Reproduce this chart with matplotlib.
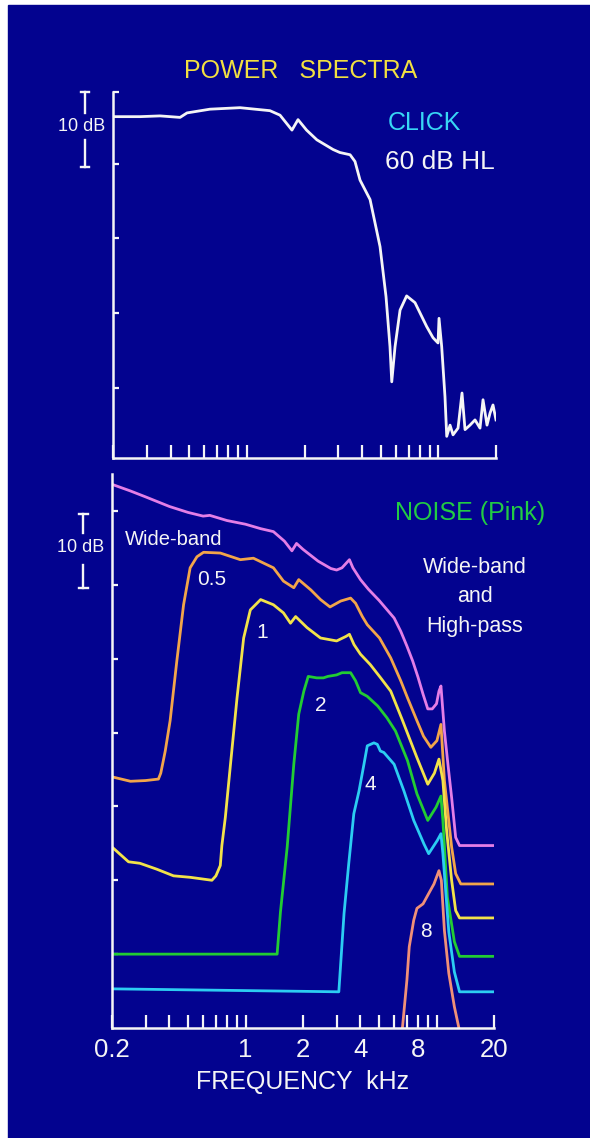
import matplotlib
matplotlib.use('Agg')
import matplotlib.pyplot as plt
from matplotlib.patches import Rectangle
from matplotlib.ticker import FixedLocator, FixedFormatter, NullLocator

plt.rcParams['font.family'] = ['Liberation Sans', 'DejaVu Sans']

# ---- data (kHz, dB) ----
click_f = [0.2, 0.277, 0.352, 0.448, 0.487, 0.642, 0.921, 1.32, 1.49, 1.72, 1.85, 2.05,
           2.32, 2.82, 3.06, 3.46, 3.67, 3.9, 4.4, 4.96, 5.33, 5.59, 5.71, 5.94, 6.31,
           6.83, 7.55, 8.69, 9.38, 9.96, 10.08, 10.41, 10.83, 11.06, 11.51, 11.93, 12.67,
           13.29, 13.78, 14.63, 15.54, 16.5, 17.11, 17.95, 18.61, 19.29, 20]
click_db = [46.3, 46.3, 46.4, 46.2, 46.8, 47.3, 47.5, 47.1, 46.5, 44.5, 45.9, 44.5,
            43.2, 41.9, 41.5, 41.2, 40.3, 37.8, 35.2, 28.9, 22.2, 15.5, 10.8, 15.5, 20.4,
            22.3, 21.4, 18.2, 16.7, 16.0, 19.3, 15.5, 8.8, 3.5, 5.0, 3.7, 4.6,
            9.3, 4.4, 5.0, 5.7, 4.6, 8.4, 5.0, 6.6, 7.7, 5.7]

wide_f = [0.2, 0.25, 0.3, 0.4, 0.5, 0.6, 0.65, 0.8, 1.0, 1.2, 1.4, 1.6, 1.75, 1.85, 2.0,
          2.4, 2.8, 3.0, 3.2, 3.5, 3.65, 4.0, 4.4, 5.0, 6.0, 6.5, 7.0, 7.5, 8.0, 8.5, 9.0,
          9.5, 10.0, 10.3, 10.55, 11.0, 11.5, 12.0, 12.6, 13.2, 20]
wide_db = [73.6, 72.7, 71.9, 70.6, 69.8, 69.3, 69.4, 68.7, 68.2, 67.6, 67.2, 65.9, 64.6,
           65.6, 64.8, 63.2, 62.2, 62.0, 62.3, 63.4, 62.3, 60.7, 59.4, 57.9, 55.5, 53.7,
           51.7, 49.7, 47.5, 45.2, 43.2, 43.2, 43.9, 45.6, 46.3, 40.2, 35.5, 31.2, 25.8,
           24.7, 24.7]

hp05_f = [0.2, 0.25, 0.3, 0.35, 0.36, 0.37, 0.38, 0.403, 0.437, 0.474, 0.513, 0.557,
          0.603, 0.738, 0.94, 1.10, 1.4, 1.58, 1.79, 1.9, 2.2, 2.47, 2.77, 3.15, 3.55,
          3.77, 4.09, 4.34, 5.03, 5.76, 6.5, 7.05, 7.9, 8.55, 9.34, 10.05, 10.55, 11.0,
          12.0, 12.6, 13.4, 20]
hp05_db = [34.0, 33.4, 33.5, 33.7, 34.5, 36.0, 37.5, 41.6, 49.7, 57.3, 62.3, 63.8,
           64.4, 64.3, 63.4, 63.6, 62.3, 60.5, 59.6, 60.7, 59.3, 58.0, 57.0, 57.8, 58.2,
           57.5, 55.7, 54.6, 52.8, 50.1, 47.0, 44.7, 41.6, 39.5, 38.0, 38.9, 41.1, 33.5,
           24.5, 20.9, 19.5, 19.5]

hp1_f = [0.2, 0.244, 0.28, 0.343, 0.42, 0.513, 0.667, 0.70, 0.738, 0.752, 0.784, 0.833,
         0.903, 0.978, 1.06, 1.2, 1.4, 1.58, 1.72, 1.83, 2.1, 2.47, 3.0, 3.35, 3.5, 3.7,
         4.0, 4.5, 5.1, 5.76, 6.6, 7.9, 9.0, 9.75, 10.3, 10.8, 11.3, 12.0, 12.6, 13.2, 20]
hp1_db = [24.5, 22.5, 22.3, 21.5, 20.6, 20.4, 20.0, 20.6, 22.0, 24.7, 28.5, 35.5,
          44.7, 52.8, 56.6, 58.0, 57.3, 56.2, 54.8, 55.7, 54.2, 52.8, 52.4, 53.0, 53.3,
          51.9, 50.6, 49.2, 47.4, 45.6, 41.8, 36.6, 33.0, 34.5, 36.4, 33.5, 26.7, 20.0,
          15.9, 14.9, 14.9]

hp2_f = [0.2, 1.464, 1.524, 1.653, 1.79, 1.90, 2.02, 2.13, 2.36, 2.56, 2.7, 3.0, 3.2,
         3.55, 3.77, 4.0, 4.34, 4.92, 5.5, 6.1, 7.05, 7.9, 9.0, 9.95, 10.55, 10.8, 11.4,
         12.4, 13.2, 20]
hp2_db = [10.0, 10.0, 15.7, 24.5, 35.7, 42.5, 45.6, 47.6, 47.4, 47.4, 47.6, 47.8, 48.1,
          48.1, 47.0, 45.4, 44.9, 43.6, 42.0, 40.2, 36.2, 31.7, 28.1, 29.9, 31.4, 28.1,
          17.7, 11.7, 9.7, 9.7]

hp4_f = [0.2, 3.08, 3.28, 3.47, 3.69, 3.93, 4.17, 4.34, 4.7, 4.9, 5.08, 5.3, 6.0, 6.75,
         7.6, 8.6, 9.1, 10.1, 10.55, 10.8, 11.6, 12.4, 13.2, 20]
hp4_db = [5.3, 4.9, 15.5, 22.2, 29.0, 32.1, 35.7, 38.2, 38.6, 38.4, 37.5, 37.3, 35.7,
          32.1, 28.1, 24.9, 23.6, 25.4, 26.3, 23.6, 13.0, 7.6, 4.9, 4.9]

hp8_f = [6.63, 7.0, 7.2, 7.6, 7.9, 8.5, 9.1, 9.7, 10.3, 10.6, 11.0, 11.6, 12.4, 13.1]
hp8_db = [0, 6.5, 11.0, 14.6, 16.2, 16.8, 18.2, 19.5, 21.3, 20.0, 13.2, 7.4, 2.9, 0]

xticks = [0.2, 0.3, 0.4, 0.5, 0.6, 0.7, 0.8, 0.9, 1, 2, 3, 4, 5, 6, 7, 8, 9, 10, 20]
xlabels = ['0.2', '', '', '', '', '', '', '', '1', '2', '', '4', '', '', '', '8', '', '', '20']

BLUE = '#03038f'
WHITE = '#f5f5f5'
W, H = 590, 1138
LW = 2.0

fig = plt.figure(figsize=(W / 100, H / 100), dpi=100, facecolor='white')
fig.patches.append(Rectangle((8 / W, 0), 1, 1 - 5 / H, transform=fig.transFigure,
                             color=BLUE, zorder=-10))

def fx(px):
    return px / W

def fy(py):
    return 1 - py / H

def style(ax):
    ax.set_facecolor('none')
    ax.set_xscale('log')
    ax.set_xlim(0.2, 20)
    for s in ['top', 'right']:
        ax.spines[s].set_visible(False)
    for s in ['left', 'bottom']:
        ax.spines[s].set_color(WHITE)
        ax.spines[s].set_linewidth(1.8)
    ax.xaxis.set_major_locator(FixedLocator(xticks))
    ax.xaxis.set_minor_locator(NullLocator())
    ax.yaxis.set_minor_locator(NullLocator())
    ax.tick_params(axis='x', direction='in', length=9.5, width=1.6, color=WHITE,
                   labelcolor=WHITE, labelsize=18.5, pad=7)
    ax.tick_params(axis='y', direction='in', length=4, width=1.6, color=WHITE,
                   labelleft=False)

def scale_bar(ax, x, top, gap_hi, gap_lo, text_y, text_x):
    tr = ax.get_yaxis_transform()
    ax.plot([x, x], [top, gap_hi], color=WHITE, lw=1.7, transform=tr, clip_on=False)
    ax.plot([x, x], [gap_lo, top - 10], color=WHITE, lw=1.7, transform=tr, clip_on=False)
    for yy in (top, top - 10):
        ax.plot([x - 0.011, x + 0.011], [yy, yy], color=WHITE, lw=1.7, transform=tr,
                clip_on=False)
    ax.text(text_x, text_y, '10 dB', transform=tr, color=WHITE, fontsize=13,
            ha='center', va='center')

# ---- top panel: click ----
ax1 = fig.add_axes([fx(113), fy(458), fx(496 - 113), (458 - 92) / H])
style(ax1)
ax1.set_ylim(0.6, 49.6)
ax1.set_yticks([10, 20, 30, 40, 49.6])
ax1.xaxis.set_major_formatter(FixedFormatter([''] * len(xticks)))
ax1.plot(click_f, click_db, color=WHITE, lw=LW)
scale_bar(ax1, -0.073, 49.6, 46.8, 43.2, 45.0, -0.083)

# ---- bottom panel: noise ----
ax2 = fig.add_axes([fx(112), fy(1028), fx(494 - 112), (1028 - 474) / H])
style(ax2)
ax2.set_ylim(0, 75)
ax2.set_yticks([10, 20, 30, 40, 50, 60, 70])
ax2.xaxis.set_major_formatter(FixedFormatter(xlabels))

curves = [(wide_f, wide_db, '#e47ee6'), (hp05_f, hp05_db, '#f2a54a'),
          (hp1_f, hp1_db, '#f2e24a'), (hp2_f, hp2_db, '#22cc33'),
          (hp4_f, hp4_db, '#2ccdf2'), (hp8_f, hp8_db, '#f09078')]
for f, db, c in curves:
    ax2.plot(f, db, color=c, lw=LW)

scale_bar(ax2, -0.075, 69.6, 67.0, 62.7, 65.0, -0.082)

lab = dict(color=WHITE, ha='center', va='center')
ax2.text(0.423, 66.1, 'Wide-band', fontsize=14.5, **lab)
ax2.text(0.667, 60.7, '0.5', fontsize=15, **lab)
ax2.text(1.22, 53.5, '1', fontsize=15, **lab)
ax2.text(2.47, 43.6, '2', fontsize=15, **lab)
ax2.text(4.5, 33.0, '4', fontsize=15, **lab)
ax2.text(8.8, 13.0, '8', fontsize=15, **lab)
ax2.text(15.0, 69.7, 'NOISE (Pink)', fontsize=18, color='#22cc44', ha='center',
         va='center')
ax2.text(15.9, 62.3, 'Wide-band', fontsize=15.5, **lab)
ax2.text(15.9, 58.4, 'and', fontsize=15.5, **lab)
ax2.text(15.9, 54.4, 'High-pass', fontsize=15.5, **lab)

# ---- slide texts ----
fig.text(fx(301), fy(71), 'POWER   SPECTRA', color='#f2e040', fontsize=18,
         ha='center', va='center')
fig.text(fx(424.5), fy(123), 'CLICK', color='#38d6f5', fontsize=18, ha='center',
         va='center')
fig.text(fx(439.5), fy(162), '60 dB HL', color=WHITE, fontsize=19, ha='center',
         va='center')
fig.text(fx(303), fy(1082), 'FREQUENCY  kHz', color=WHITE, fontsize=18, ha='center',
         va='center')

fig.savefig('out.png', dpi=100, facecolor=fig.get_facecolor())
